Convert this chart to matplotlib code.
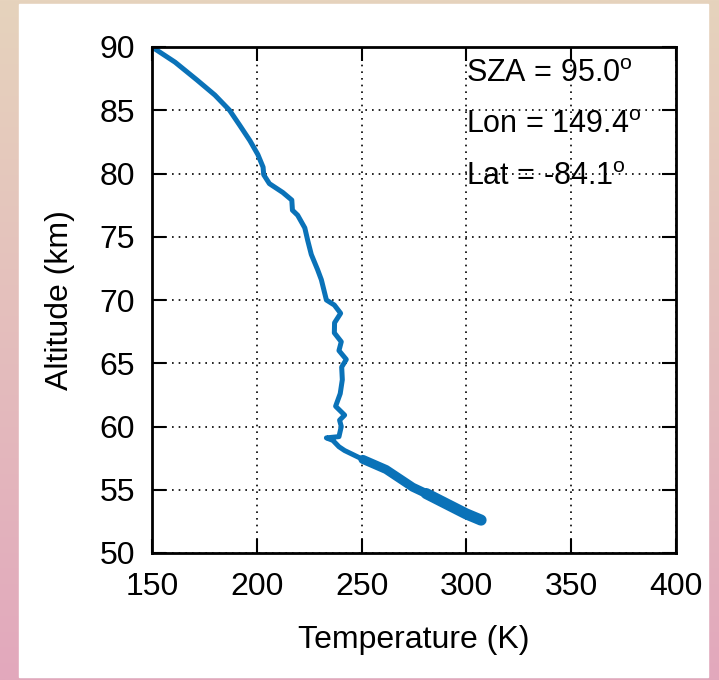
import numpy as np
import matplotlib.pyplot as plt
import matplotlib.font_manager as fm
from matplotlib.colors import LinearSegmentedColormap

# temperature profile
temp = [150, 161, 171.4, 180, 187, 191.9, 196.7, 200.5, 203, 203.3, 206, 212.4, 216.7,
        217, 219.5, 222.9, 224.3, 226, 229, 230.8, 233.2, 237, 240, 237.1, 237, 240.3,
        239.2, 242.7, 240.5, 240.8, 239.8, 237.6, 241.9, 239.5, 240.3, 239.2, 233.2,
        236.3, 239.2, 241.9, 250.6, 261.7, 274.4, 280.8, 290.3, 299.8, 307]
alt = [90, 88.8, 87.4, 86.2, 85, 83.8, 82.6, 81.5, 80.5, 79.9, 79.2, 78.5, 77.9,
       77.1, 76.7, 75.7, 74.7, 73.6, 72.4, 71.6, 70.0, 69.6, 68.95, 68.2, 67.4, 66.7,
       66.0, 65.3, 64.7, 63.7, 62.6, 61.6, 60.9, 60.5, 60.0, 59.2, 59.1,
       58.9, 58.4, 58.1, 57.4, 56.6, 55.2, 54.7, 53.9, 53.1, 52.6]

info = ["SZA = 95.0$^{\\rm o}$", "Lon = 149.4$^{\\rm o}$", "Lat = -84.1$^{\\rm o}$"]
info_alt = [87.9, 83.8, 79.7]

xticks = [150, 200, 250, 300, 350, 400]
yticks = [50, 55, 60, 65, 70, 75, 80, 85, 90]

names = {f.name for f in fm.fontManager.ttflist}
fam = 'Liberation Sans Narrow' if 'Liberation Sans Narrow' in names else 'Liberation Sans'
plt.rcParams['font.family'] = [fam, 'DejaVu Sans']
plt.rcParams['mathtext.fontset'] = 'custom'
plt.rcParams['mathtext.rm'] = fam

fig = plt.figure(figsize=(7.19, 6.8), dpi=100)

# gradient background + white panel
bg = fig.add_axes([0, 0, 1, 1])
cmap = LinearSegmentedColormap.from_list('bg', ['#e6d3bd', '#e2a8bc'])
bg.imshow(np.linspace(0, 1, 256).reshape(-1, 1), aspect='auto', cmap=cmap,
          extent=[0, 1, 0, 1])
bg.add_patch(plt.Rectangle((19 / 719, 1 - 677 / 680), (708 - 19) / 719, (677 - 4) / 680,
                           color='white', transform=bg.transAxes))
bg.set_xlim(0, 1)
bg.set_ylim(0, 1)
bg.axis('off')

ax = fig.add_axes([152 / 719, 1 - 553 / 680, (676 - 152) / 719, (553 - 47) / 680])
line_col = '#0a72b8'
ax.plot(temp, alt, color=line_col, lw=3.6, solid_capstyle='round', solid_joinstyle='round')

# noisy lower part shows as a thicker band
t_arr = np.array(temp)
a_arr = np.array(alt)
low = a_arr <= 57.4
ax.plot(t_arr[low], a_arr[low], color=line_col, lw=6.5, solid_capstyle='round')
ax.plot(t_arr[a_arr <= 54.7], a_arr[a_arr <= 54.7], color=line_col, lw=8,
        solid_capstyle='round')

ax.set_xlim(150, 400)
ax.set_ylim(50, 90)
ax.set_xticks(xticks)
ax.set_yticks(yticks)
ax.grid(True, color='black', linestyle=(0, (1, 3)), linewidth=1.2)
ax.tick_params(direction='in', length=10, width=1.5, top=True, right=True,
               labelsize=23)
ax.tick_params(axis='x', pad=14)
ax.tick_params(axis='y', pad=12)
for s in ax.spines.values():
    s.set_linewidth(2)

ax.set_xlabel('Temperature (K)', fontsize=23, labelpad=16)
ax.set_ylabel('Altitude (km)', fontsize=23, labelpad=18)

for t, a in zip(info, info_alt):
    ax.text(300, a, t, fontsize=22, va='center', ha='left')

fig.savefig('out.png', dpi=100)
